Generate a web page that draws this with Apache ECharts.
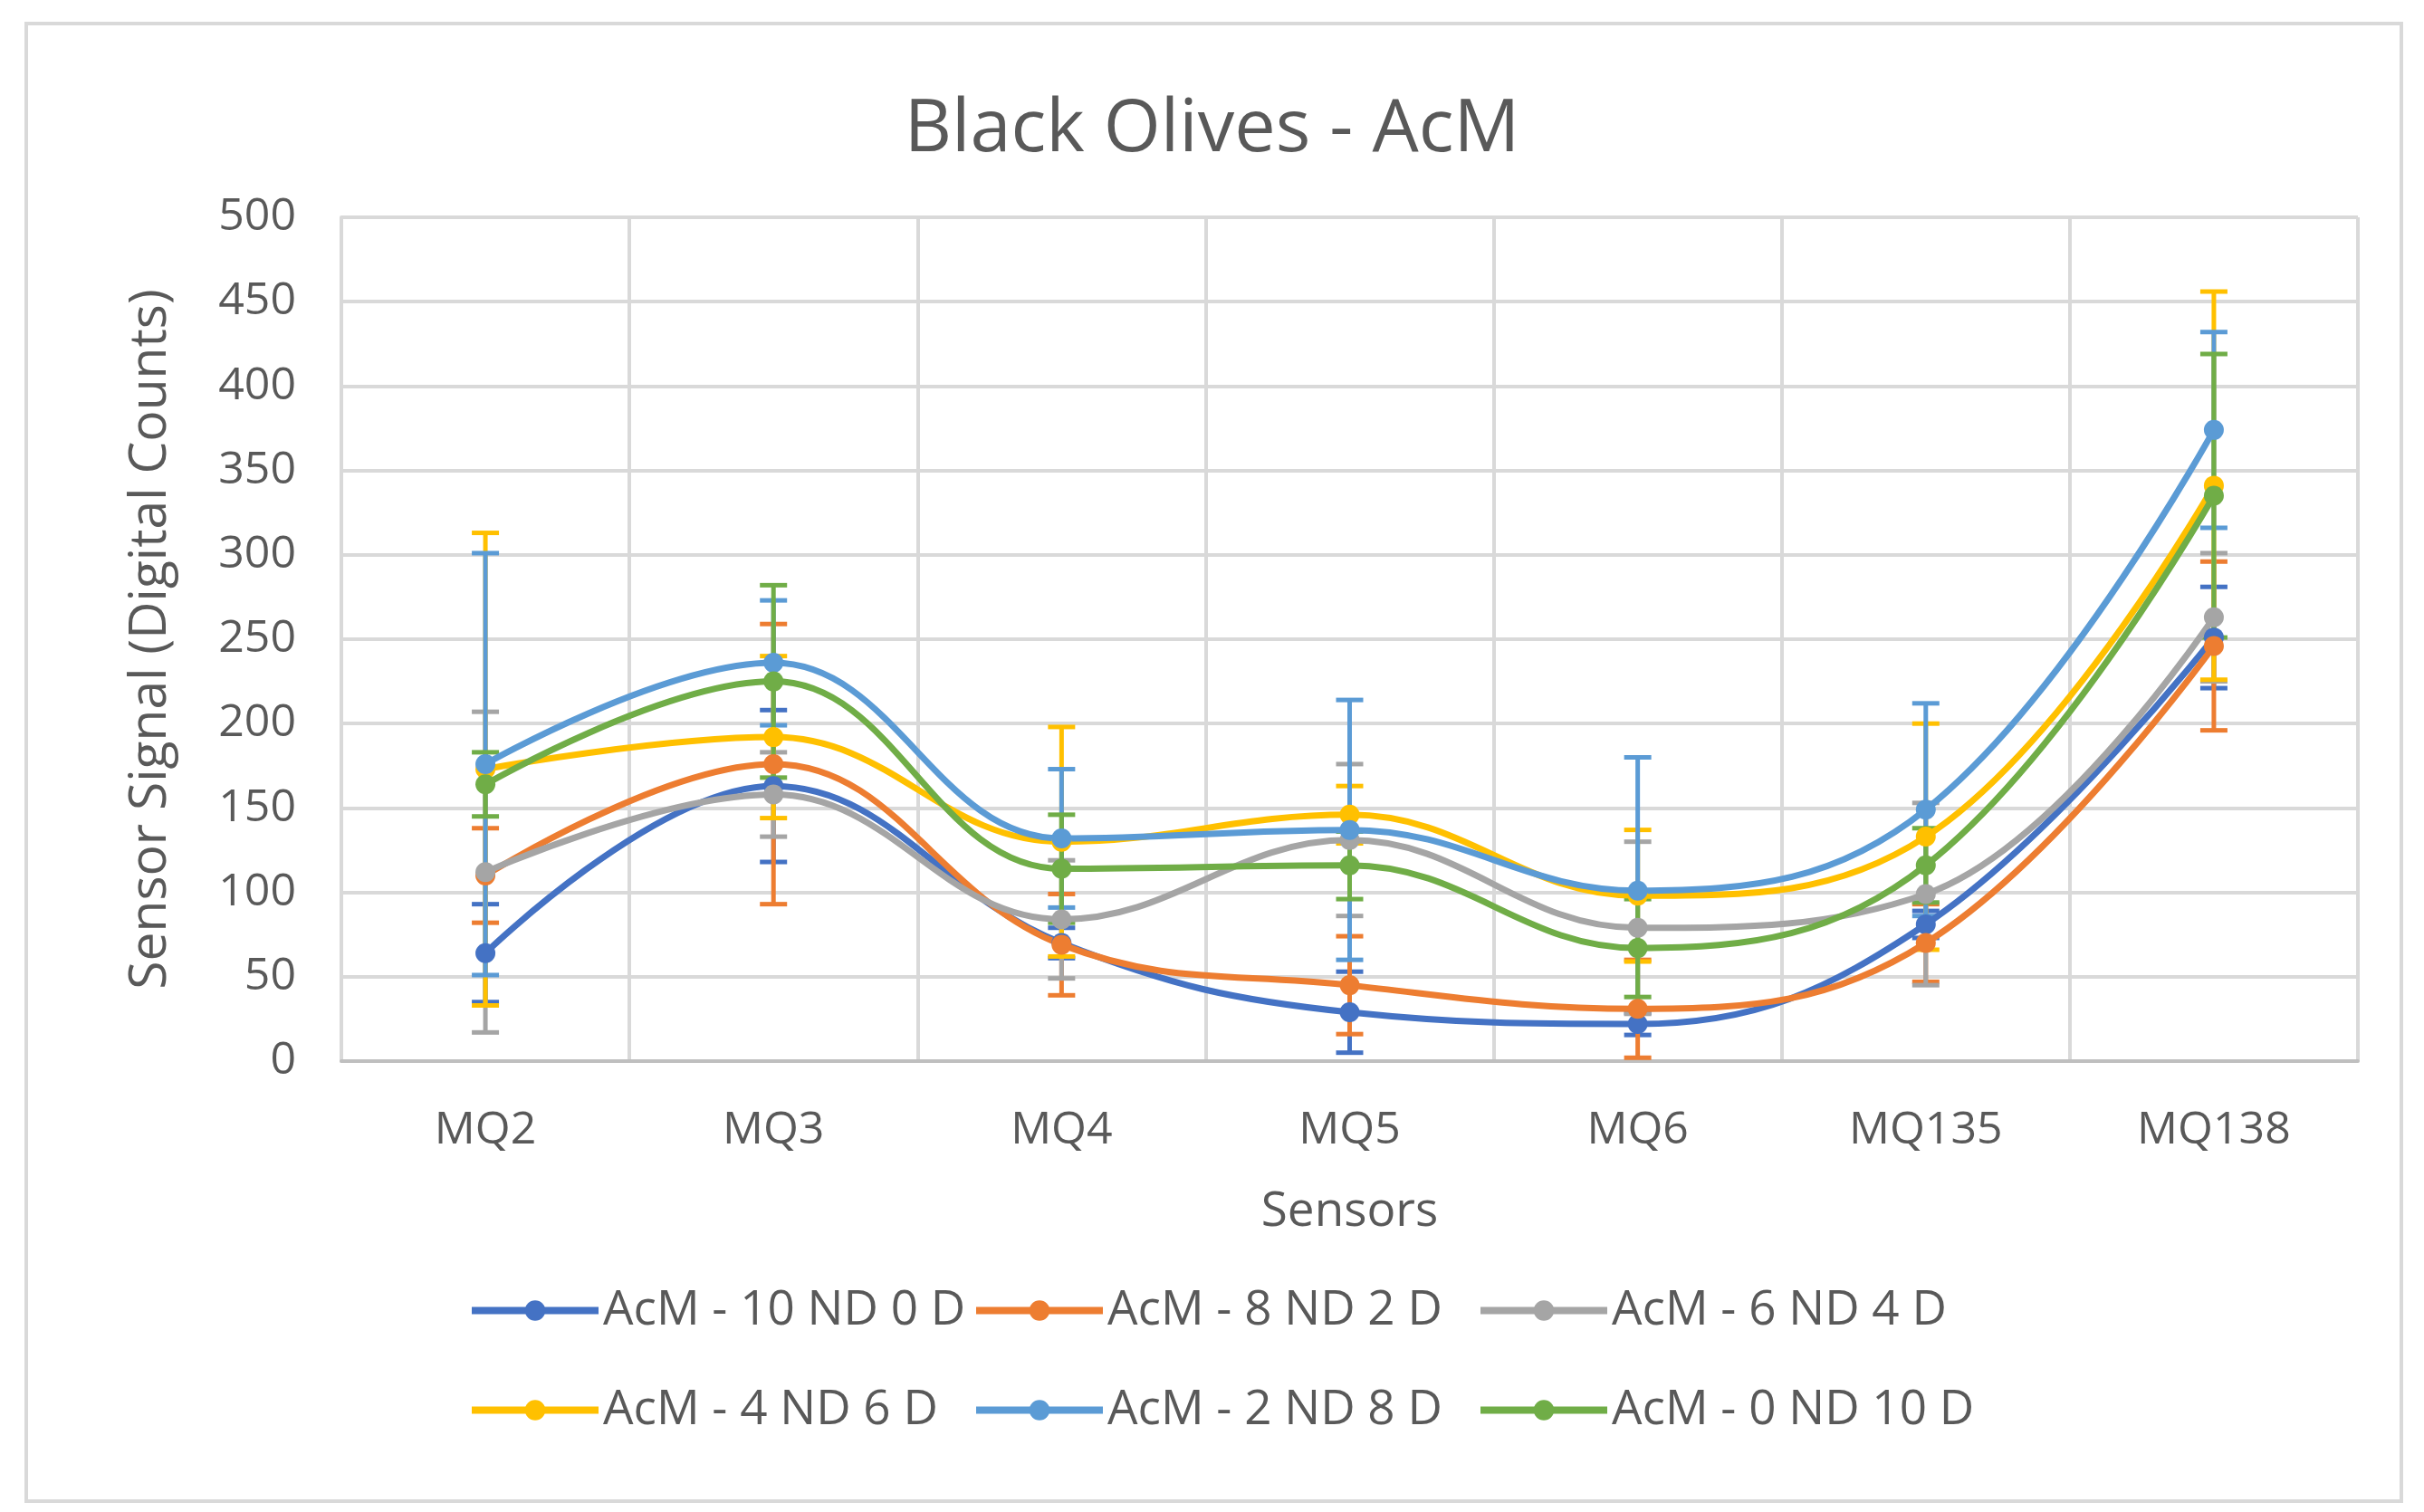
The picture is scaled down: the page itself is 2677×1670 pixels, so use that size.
<!DOCTYPE html>
<html>
<head>
<meta charset="utf-8">
<script src="https://cdn.jsdelivr.net/npm/echarts@6/dist/echarts.min.js"></script>
<style>
html,body{margin:0;padding:0;background:#fff;}
#chart{width:2677px;height:1670px;}
</style>
</head>
<body>
<div id="chart"></div>
<script>
const categories = ['MQ2', 'MQ3', 'MQ4', 'MQ5', 'MQ6', 'MQ135', 'MQ138'];
const seriesNames = ['AcM - 10 ND 0 D', 'AcM - 8 ND 2 D', 'AcM - 6 ND 4 D', 'AcM - 4 ND 6 D', 'AcM - 2 ND 8 D', 'AcM - 0 ND 10 D'];
const colors = ['#4472C4', '#ED7D31', '#A5A5A5', '#FFC000', '#5B9BD5', '#70AD47'];

const values10ND0D = [64, 163, 70, 29, 22, 81, 251];
const values8ND2D  = [110, 176, 69, 45, 31, 70, 246];
const values6ND4D  = [112, 158, 84, 131, 79, 99, 263];
const values4ND6D  = [173, 192, 130, 146, 98, 133, 341];
const values2ND8D  = [176, 236, 132, 137, 101, 149, 374];
const values0ND10D = [164, 225, 114, 116, 67, 116, 335];

const err10ND0D = [29, 45, 9, 24, 6.5, 8, 30];
const err8ND2D  = [28, 83, 30, 29, 29, 23, 50];
const err6ND4D  = [95, 25, 35, 45, 51, 54, 38];
const err4ND6D  = [140, 48, 68, 17, 39, 67, 115];
const err2ND8D  = [125, 37, 41, 77, 79, 63, 58];
const err0ND10D = [19, 57, 32, 20, 29, 22, 84];

const yTicks = { min: 0, max: 500, interval: 50 };

const allValues = [values10ND0D, values8ND2D, values6ND4D, values4ND6D, values2ND8D, values0ND10D];
const allErrors = [err10ND0D, err8ND2D, err6ND4D, err4ND6D, err2ND8D, err0ND10D];

const FONT = '"Open Sans", "Noto Sans", sans-serif';
const TXT = '#595959';

const series = [];
allValues.forEach((vals, si) => {
  const errs = allErrors[si];
  series.push({
    type: 'custom',
    name: seriesNames[si] + ' err',
    z: 1,
    silent: true,
    data: vals.map((v, i) => [i, v - errs[i], v + errs[i]]),
    encode: { x: 0, y: [1, 2] },
    renderItem: function (params, api) {
      const x = api.value(0);
      const lo = api.coord([x, api.value(1)]);
      const hi = api.coord([x, api.value(2)]);
      const hw = 15;
      const st = { stroke: colors[si], lineWidth: 5 };
      return {
        type: 'group',
        children: [
          { type: 'line', shape: { x1: hi[0], y1: hi[1], x2: lo[0], y2: lo[1] }, style: st },
          { type: 'line', shape: { x1: hi[0] - hw, y1: hi[1], x2: hi[0] + hw, y2: hi[1] }, style: st },
          { type: 'line', shape: { x1: lo[0] - hw, y1: lo[1], x2: lo[0] + hw, y2: lo[1] }, style: st }
        ]
      };
    }
  });
});
allValues.forEach((vals, si) => {
  series.push({
    type: 'line',
    name: seriesNames[si],
    z: 3,
    data: vals,
    smooth: 0.4,
    symbol: 'circle',
    symbolSize: 22,
    lineStyle: { width: 7, color: colors[si] },
    itemStyle: { color: colors[si] },
    emphasis: { disabled: true }
  });
});

const legendLefts = [512, 1069, 1626, 512, 1069, 1626];
const legendTops = [1416, 1416, 1416, 1526, 1526, 1526];
const legends = seriesNames.map((n, i) => ({
  data: [n],
  left: legendLefts[i],
  top: legendTops[i],
  itemWidth: 140,
  itemHeight: 28,
  lineStyle: { width: 8 },
  textStyle: { fontFamily: FONT, fontSize: 53, color: TXT },
  selectedMode: false
}));

const option = {
  backgroundColor: '#fff',
  animation: false,
  color: colors,
  title: {
    text: 'Black Olives - AcM',
    left: 'center',
    top: 98,
    textStyle: { fontFamily: FONT, fontSize: 81, fontWeight: 'normal', color: TXT }
  },
  legend: legends,
  grid: { left: 377, right: 73, top: 240, bottom: 498 },
  xAxis: {
    type: 'category',
    data: categories,
    boundaryGap: true,
    name: 'Sensors',
    nameLocation: 'middle',
    nameGap: 140,
    nameTextStyle: { fontFamily: FONT, fontSize: 53, color: TXT },
    axisLine: { lineStyle: { color: '#BFBFBF', width: 4 } },
    axisTick: { show: false },
    axisLabel: { fontFamily: FONT, fontSize: 50, color: TXT, margin: 52 },
    splitLine: { show: true, lineStyle: { color: '#D9D9D9', width: 4 } }
  },
  yAxis: {
    type: 'value',
    min: yTicks.min,
    max: yTicks.max,
    interval: yTicks.interval,
    name: 'Sensor Signal (Digital Counts)',
    nameLocation: 'middle',
    nameGap: 182,
    nameTextStyle: { fontFamily: FONT, fontSize: 57, color: TXT },
    axisLine: { show: true, lineStyle: { color: '#D9D9D9', width: 4 } },
    axisTick: { show: false },
    axisLabel: { fontFamily: FONT, fontSize: 50, color: TXT, margin: 50 },
    splitLine: { show: true, lineStyle: { color: '#D9D9D9', width: 4 } }
  },
  graphic: [{
    type: 'rect',
    shape: { x: 29, y: 26, width: 2623, height: 1632 },
    style: { fill: 'none', stroke: '#D9D9D9', lineWidth: 4 },
    z: -1
  }],
  series: series
};

const chart = echarts.init(document.getElementById('chart'));
chart.setOption(option);
</script>
</body>
</html>
